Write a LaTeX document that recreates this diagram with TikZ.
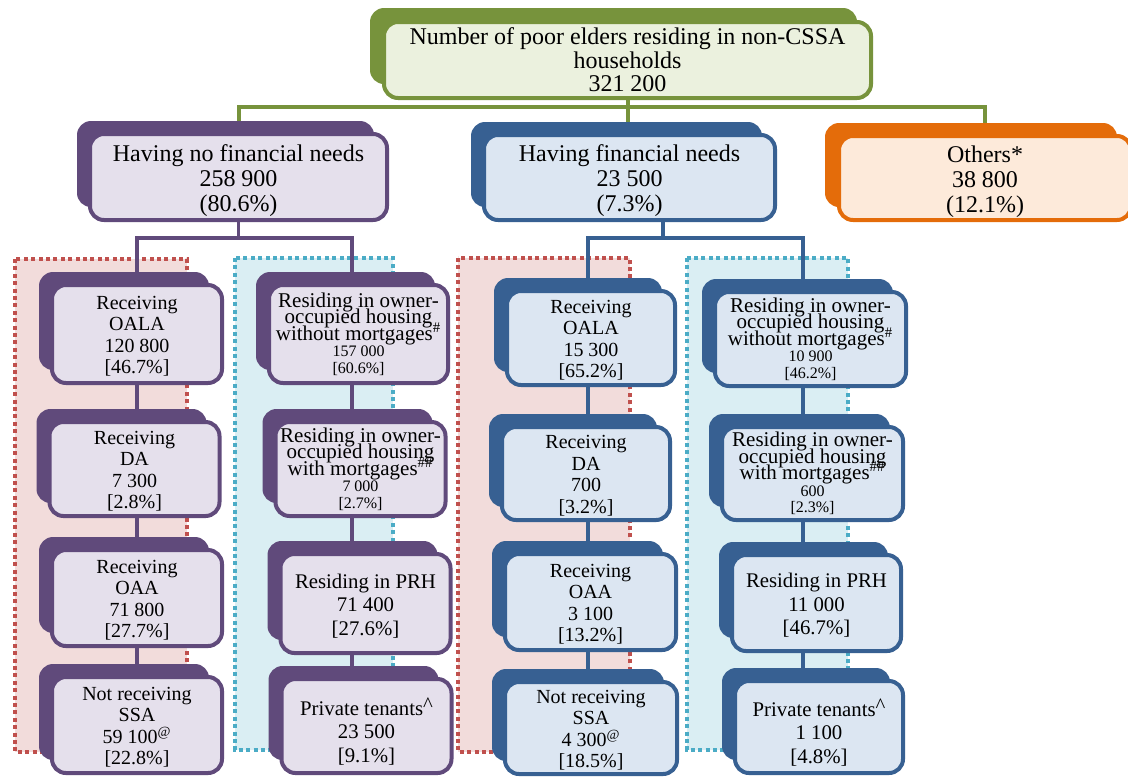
\documentclass[tikz,border=0pt]{standalone}
\usepackage{fontspec}
\setmainfont{Liberation Serif}
\usepackage{xcolor}
\usepackage{tikz}
\usetikzlibrary{positioning, shadows, backgrounds}
\definecolor{topGreen}{HTML}{77933C}
\definecolor{topFill}{HTML}{EBF1DE}
\definecolor{noFinPurple}{HTML}{604A7B}
\definecolor{noFinFill}{HTML}{E5E0EC}
\definecolor{finBlue}{HTML}{376092}
\definecolor{finFill}{HTML}{DCE6F2}
\definecolor{otherOrange}{HTML}{E46C0A}
\definecolor{otherFill}{HTML}{FDEADA}
\definecolor{zoneRed}{HTML}{C0504D}
\definecolor{zoneRedFill}{HTML}{F2DCDB}
\definecolor{zoneCyan}{HTML}{4BACC6}
\definecolor{zoneCyanFill}{HTML}{DAEEF3}
\newcommand{\smallfig}[1]{{\fontsize{8}{8}\selectfont #1}}
\newcommand{\tightskip}{\lineskiplimit=-10pt\relax}
\newcommand{\pushdown}[1]{\rule{0pt}{#1}}

\begin{document}
\begin{tikzpicture}[x=0.5pt, y=-0.5pt,
    card/.style={rectangle, rounded corners=7pt, line width=2pt, align=center, inner sep=1pt, text=black},
    headtext/.style={font=\fontsize{12}{12.5}\selectfont},
    subtext/.style={font=\fontsize{10}{10.8}\selectfont},
    prhtext/.style={font=\fontsize{10.4}{11.75}\selectfont},
    owntext/.style={font=\fontsize{10.5}{8.2}\selectfont\tightskip},
    greencard/.style={card, draw=topGreen, fill=topFill, general shadow={fill=topGreen, shadow xshift=-7pt, shadow yshift=7pt}},
    purplecard/.style={card, draw=noFinPurple, fill=noFinFill, general shadow={fill=noFinPurple, shadow xshift=-6.5pt, shadow yshift=6.5pt}},
    bluecard/.style={card, draw=finBlue, fill=finFill, general shadow={fill=finBlue, shadow xshift=-6.5pt, shadow yshift=6.5pt}},
    orangecard/.style={card, draw=otherOrange, fill=otherFill, general shadow={fill=otherOrange, shadow xshift=-7pt, shadow yshift=6.5pt}},
    leaf/.style={minimum width=85pt, minimum height=48pt},
    redzone/.style={draw=zoneRed, fill=zoneRedFill, line width=1.8pt, dash pattern=on 2pt off 1.7pt},
    cyanzone/.style={draw=zoneCyan, fill=zoneCyanFill, line width=1.8pt, dash pattern=on 2pt off 1.7pt},
    gconn/.style={draw=topGreen, line width=2pt},
    pconn/.style={draw=noFinPurple, line width=1.6pt},
    bconn/.style={draw=finBlue, line width=1.6pt}
  ]
  \useasboundingbox (0,0) rectangle (1128,778);
  \clip (0,0) rectangle (1128,778);

  % === Dotted groups ===
  \begin{scope}[on background layer]
    \draw[redzone] (15,259) rectangle (187,752);
    \draw[cyanzone] (235,258) rectangle (393,750);
    \draw[redzone] (458,258) rectangle (630,752);
    \draw[cyanzone] (687,258) rectangle (848,750);
  \end{scope}

  % === Top ===
  \node[greencard, font=\fontsize{12}{11.8}\selectfont, minimum width=243.5pt, minimum height=38pt] (total) at (627.5,60) {Number of poor elders residing in non-CSSA\\households\\321 200};

  % === Second level ===
  \node[purplecard, headtext, minimum width=148.5pt, minimum height=43pt] (nofin) at (238.5,177) {\pushdown{12pt}Having no financial needs\\258 900\\(80.6\%)};
  \node[bluecard, headtext, minimum width=145.5pt, minimum height=42.5pt] (fin) at (629.5,177.5) {\pushdown{12pt}Having financial needs\\23 500\\(7.3\%)};
  \node[orangecard, headtext, minimum width=146pt, minimum height=42pt] (others) at (985,178) {\pushdown{12pt}Others*\\38 800\\(12.1\%)};

  % === No financial needs: benefits ===
  \node[purplecard, leaf, subtext, minimum height=49pt] (noOala) at (137,334) {\pushdown{8.8pt}Receiving\\OALA\\120 800\\{[46.7\%]}};
  \node[purplecard, leaf, subtext, minimum height=47pt] (noDa) at (134.5,469) {\pushdown{8.8pt}Receiving\\DA\\7 300\\{[2.8\%]}};
  \node[purplecard, leaf, subtext] (noOaa) at (137,598) {\pushdown{8.8pt}Receiving\\OAA\\71 800\\{[27.7\%]}};
  \node[purplecard, leaf, subtext] (noSsa) at (137,725) {\pushdown{8.8pt}Not receiving\\SSA\\59 100\textsuperscript{@}\\{[22.8\%]}};

  % === No financial needs: housing ===
  \node[purplecard, leaf, owntext, minimum width=89.5pt, minimum height=49pt] (noOwn) at (358.5,334) {Residing in owner-\\occupied housing\\without mortgages\textsuperscript{\#}\\\smallfig{157 000}\\\smallfig{[60.6\%]}};
  \node[purplecard, leaf, owntext, minimum height=47pt] (noMort) at (360.5,469) {Residing in owner-\\occupied housing\\with mortgages\textsuperscript{\#\#}\\\smallfig{7 000}\\\smallfig{[2.7\%]}};
  \node[purplecard, leaf, prhtext, minimum height=49.5pt] (noPrh) at (365.5,603.5) {\pushdown{9.6pt}Residing in PRH\\71 400\\{[27.6\%]}};
  \node[purplecard, leaf, prhtext, minimum height=47pt] (noPriv) at (366.5,726) {\pushdown{14pt}Private tenants\raisebox{2pt}{\textasciicircum}\\23 500\\{[9.1\%]}};

  % === Financial needs: benefits ===
  \node[bluecard, leaf, subtext, minimum width=84pt, minimum height=47pt] (finOala) at (591,338) {\pushdown{8.8pt}Receiving\\OALA\\15 300\\{[65.2\%]}};
  \node[bluecard, leaf, subtext, minimum width=84pt, minimum height=46.5pt] (finDa) at (586,473.5) {\pushdown{8.8pt}Receiving\\DA\\700\\{[3.2\%]}};
  \node[bluecard, leaf, subtext, minimum width=85.5pt] (finOaa) at (590.5,602) {\pushdown{8.8pt}Receiving\\OAA\\3 100\\{[13.2\%]}};
  \node[bluecard, leaf, subtext, minimum width=86pt, minimum height=46pt] (finSsa) at (591,728) {\pushdown{8.8pt}Not receiving\\SSA\\4 300\textsuperscript{@}\\{[18.5\%]}};

  % === Financial needs: housing ===
  \node[bluecard, leaf, owntext, minimum width=95.5pt, minimum height=47pt] (finOwn) at (810.5,339) {Residing in owner-\\occupied housing\\without mortgages\textsuperscript{\#}\\\smallfig{10 900}\\\smallfig{[46.2\%]}};
  \node[bluecard, leaf, owntext, minimum width=90.5pt, minimum height=46.5pt] (finMort) at (812.5,473.5) {Residing in owner-\\occupied housing\\with mortgages\textsuperscript{\#\#}\\\smallfig{600}\\\smallfig{[2.3\%]}};
  \node[bluecard, leaf, prhtext, minimum width=84.5pt] (finPrh) at (816.5,603) {\pushdown{9.6pt}Residing in PRH\\11 000\\{[46.7\%]}};
  \node[bluecard, leaf, prhtext, minimum width=84pt, minimum height=46pt] (finPriv) at (819,727) {\pushdown{14pt}Private tenants\raisebox{2pt}{\textasciicircum}\\1 100\\{[4.8\%]}};

  % === Connectors ===
  \begin{scope}[on background layer]
    \coordinate (gbar) at (627.5,107);
    \draw[gconn] (total.south) -- (gbar);
    \draw[gconn] (nofin.north) |- (gbar) -| (others.north);
    \draw[gconn] (gbar) -- (gbar |- fin.north);
    \coordinate (noBar) at (137,238);
    \coordinate (noBarR) at (352,238);
    \draw[pconn] (nofin.south) -- (nofin.south |- noBar);
    \draw[pconn] (noBar |- noSsa.north) -- (noBar) -- (noBarR) -- (noBarR |- noPriv.north);
    \coordinate (finBar) at (588,238);
    \coordinate (finBarR) at (803,238);
    \coordinate (finDrop) at (663,238);
    \draw[bconn] (finDrop |- fin.south) -- (finDrop);
    \draw[bconn] (finBar |- finSsa.north) -- (finBar) -- (finBarR) -- (finBarR |- finPriv.north);
  \end{scope}
\end{tikzpicture}
\end{document}
